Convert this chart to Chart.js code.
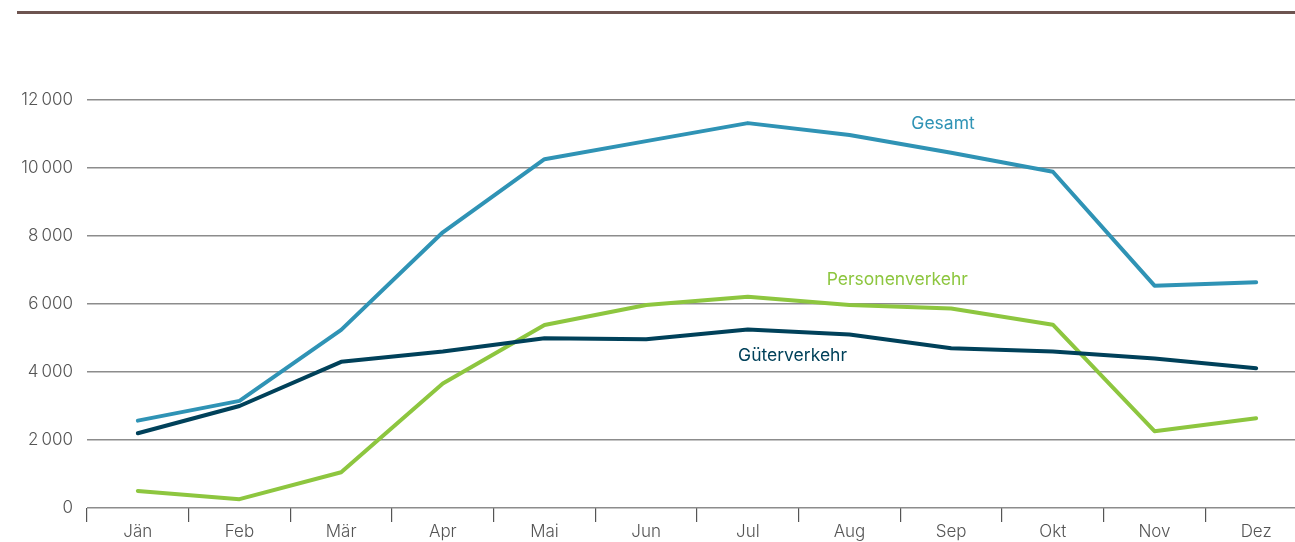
<!DOCTYPE html>
<html>
<head>
<meta charset="utf-8">
<script src="https://cdn.jsdelivr.net/npm/chart.js@4/dist/chart.umd.min.js"></script>
<style>
  html, body { margin: 0; padding: 0; background: #fff; overflow: hidden; }
  #wrap { position: relative; width: 1310px; height: 542px; }
  #rule { position: absolute; left: 17px; top: 11px; width: 1293px; height: 3px; background: #6d5450; }
</style>
</head>
<body>
<div id="wrap">
  <div id="rule"></div>
  <canvas id="verkehrChart" width="1310" height="542"></canvas>
</div>
<script>
// Monate
const months = ["Jän", "Feb", "Mär", "Apr", "Mai", "Jun", "Jul", "Aug", "Sep", "Okt", "Nov", "Dez"];

// Werte je Reihe
const gesamt = [2570, 3150, 5240, 8110, 10260, 10790, 11320, 10970, 10450, 9890, 6540, 6640];
const gueterverkehr = [2200, 3000, 4300, 4600, 4990, 4960, 5250, 5100, 4700, 4600, 4400, 4110];
const personenverkehr = [500, 260, 1050, 3660, 5380, 5970, 6210, 5970, 5870, 5390, 2260, 2640];

// Y-Achse
const yTicks = [0, 2000, 4000, 6000, 8000, 10000, 12000];

// Beschriftungen direkt an den Linien (Kategorie-Index, Wert)
const lineLabels = [
  { text: "Gesamt", x: 7.92, y: 11290, color: "#2f93b5" },
  { text: "Personenverkehr", x: 7.47, y: 6700, color: "#8dc63f" },
  { text: "Güterverkehr", x: 6.44, y: 4470, color: "#00415a" },
];

const fontFamily = "Inter, Roboto, sans-serif";

// Zahlen mit schmalem Leerzeichen als Tausendertrenner
function formatNumber(v) {
  return String(v).replace(/\B(?=(\d{3})+(?!\d))/g, "\u202f");
}

const labelPlugin = {
  id: "lineLabels",
  afterDatasetsDraw(chart) {
    const ctx = chart.ctx;
    const xs = chart.scales.x;
    const ys = chart.scales.y;
    ctx.save();
    ctx.font = "17.5px " + fontFamily;
    ctx.textAlign = "center";
    ctx.textBaseline = "middle";
    lineLabels.forEach((l) => {
      ctx.fillStyle = l.color;
      ctx.fillText(l.text, xs.getPixelForValue(l.x), ys.getPixelForValue(l.y));
    });
    ctx.restore();
  },
};

const lineStyle = {
  borderWidth: 4,
  pointRadius: 0,
  tension: 0,
  borderCapStyle: "round",
  borderJoinStyle: "round",
  fill: false,
};

const ctx = document.getElementById("verkehrChart").getContext("2d");
const verkehrChart = new Chart(ctx, {
  type: "line",
  data: {
    labels: months,
    datasets: [
      { label: "Gesamt", data: gesamt, borderColor: "#2f93b5", ...lineStyle },
      { label: "Güterverkehr", data: gueterverkehr, borderColor: "#00415a", ...lineStyle },
      { label: "Personenverkehr", data: personenverkehr, borderColor: "#8dc63f", ...lineStyle },
    ],
  },
  options: {
    responsive: false,
    animation: false,
    devicePixelRatio: 1,
    layout: { padding: { top: 100, right: 3, left: 0, bottom: 0 } },
    plugins: {
      legend: { display: false },
      tooltip: { enabled: false },
    },
    scales: {
      x: {
        offset: true,
        grid: {
          offset: true,
          drawOnChartArea: false,
          tickLength: 14,
          color: "#555",
          lineWidth: 1.2,
        },
        border: { display: false },
        ticks: {
          padding: 0,
          color: "#555",
          font: { family: fontFamily, size: 17, weight: "300" },
        },
        afterFit(scale) {
          scale.height = 34;
        },
      },
      y: {
        min: 0,
        max: 12000,
        afterBuildTicks(scale) {
          scale.ticks = yTicks.map((v) => ({ value: v }));
        },
        grid: {
          drawTicks: false,
          color: "#8c8c8c",
          lineWidth: 1.5,
        },
        border: { display: false },
        ticks: {
          padding: 14,
          color: "#555",
          font: { family: fontFamily, size: 17, weight: "300" },
          callback: (v) => formatNumber(v),
        },
        afterFit(scale) {
          scale.width = 87;
        },
      },
    },
  },
  plugins: [labelPlugin],
});
</script>
</body>
</html>
